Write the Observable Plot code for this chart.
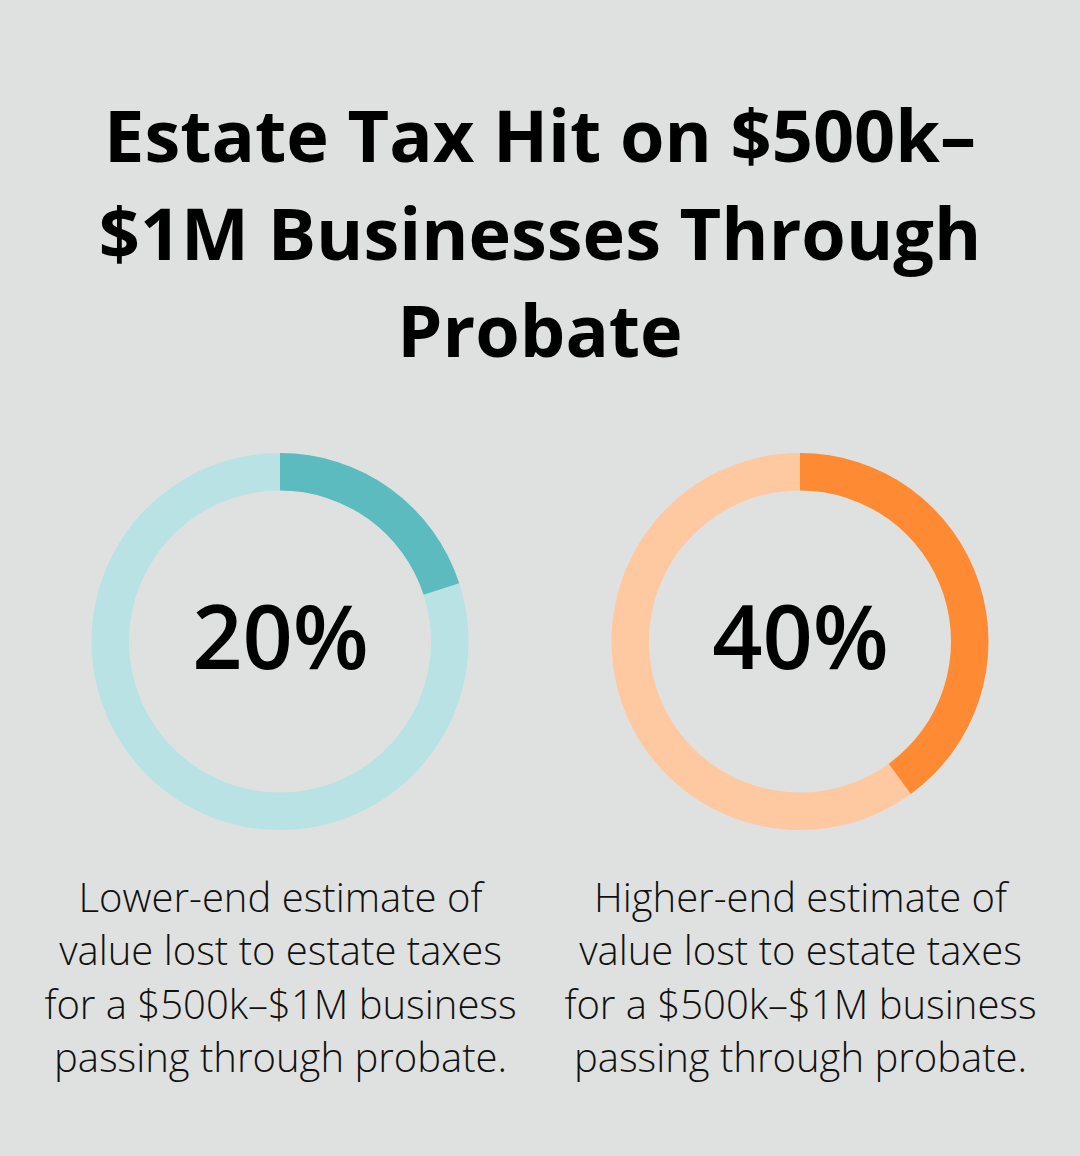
<!DOCTYPE html>
<html>
<head>
<meta charset="utf-8">
<script src="https://cdn.jsdelivr.net/npm/d3@7"></script>
<script src="https://cdn.jsdelivr.net/npm/@observablehq/plot@0.6"></script>
<style>
  html, body { margin: 0; padding: 0; background: #dfe1e0; }
  #wrap { width: 1080px; height: 1156px; background: #dfe1e0; position: relative; overflow: hidden; }
  #title {
    box-sizing: border-box; height: 400px; padding-top: 86px; margin: 0;
    font-family: "Open Sans", sans-serif; font-weight: 700; font-size: 72px;
    line-height: 97.5px; text-align: center; color: #000;
  }
  #chart svg { display: block; }
</style>
</head>
<body>
<div id="wrap">
  <h1 id="title">Estate Tax Hit on $500k–<br>$1M Businesses Through<br>Probate</h1>
  <div id="chart"></div>
</div>
<script>
// ---- data ----
const categories = ["Lower-end", "Higher-end"];
const values = [20, 40];
const labels = ["20%", "40%"];
const captions = [
  "Lower-end estimate of\nvalue lost to estate taxes\nfor a $500k–$1M business\npassing through probate.",
  "Higher-end estimate of\nvalue lost to estate taxes\nfor a $500k–$1M business\npassing through probate."
];
// ---- styles ----
const darkColors = ["#5bbbbf", "#fe8b33"];
const lightColors = ["#b9e2e4", "#fec8a0"];

const data = categories.map((c, i) => ({cat: c, value: values[i], label: labels[i], caption: captions[i], dark: darkColors[i], light: lightColors[i]}));

const outerR = 188.5, innerR = 151, centerY = 241.5;

function donutMark(index, scales, channels, dimensions) {
  const x = scales.x;
  const bw = x.bandwidth ? x.bandwidth() : 0;
  const angle = d3.scaleLinear([0, 100], [0, 2 * Math.PI]);
  const arc = d3.arc().innerRadius(innerR).outerRadius(outerR);
  const g = d3.create("svg:g");
  for (const d of data) {
    const cx = x(d.cat) + bw / 2;
    const cy = dimensions.marginTop + centerY;
    const gg = g.append("g").attr("transform", `translate(${cx},${cy})`);
    gg.append("path").attr("fill", d.light)
      .attr("d", arc({startAngle: angle(d.value), endAngle: angle(100)}));
    gg.append("path").attr("fill", d.dark)
      .attr("d", arc({startAngle: angle(0), endAngle: angle(d.value)}));
  }
  return g.node();
}

const chart = Plot.plot({
  width: 1080,
  height: 756,
  marginTop: 0, marginBottom: 0, marginLeft: 20, marginRight: 20,
  style: {background: "#dfe1e0", fontFamily: "'Open Sans', sans-serif"},
  x: {type: "band", domain: categories, padding: 0, axis: null},
  marks: [
    donutMark,
    Plot.text(data, {x: "cat", text: "label", frameAnchor: "top", dy: 206, fontSize: 88, fontWeight: 600, fill: "#000"}),
    Plot.text(data, {x: "cat", text: "caption", frameAnchor: "top", dy: 473, lineAnchor: "top", lineHeight: 1.34, fontSize: 40, fontWeight: 300, fill: "#111"})
  ]
});
document.getElementById("chart").append(chart);
</script>
</body>
</html>
